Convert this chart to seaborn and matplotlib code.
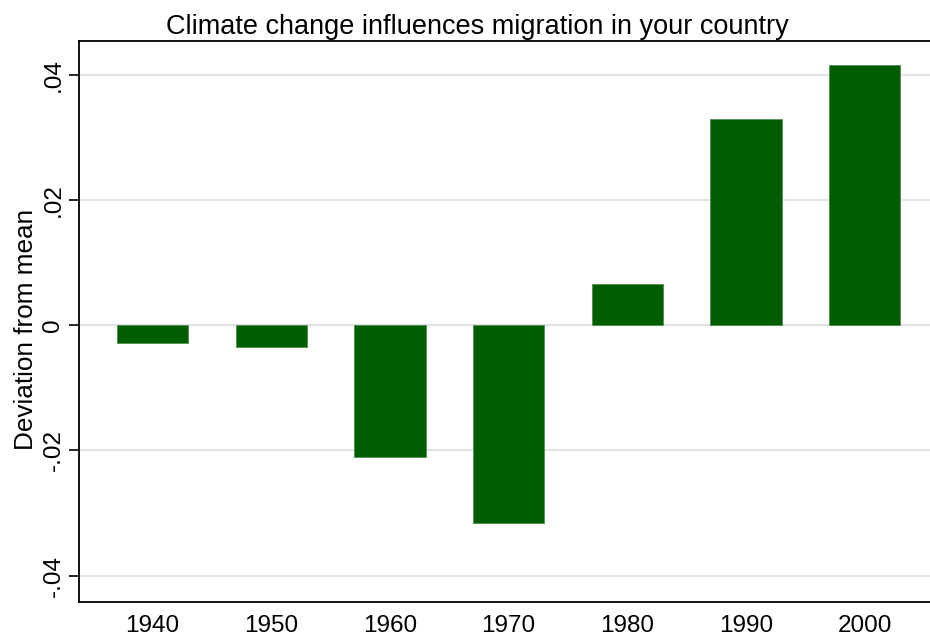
import pandas as pd
import seaborn as sns
import matplotlib.pyplot as plt

years = ['1940', '1950', '1960', '1970', '1980', '1990', '2000']
deviation = [-0.0029, -0.0035, -0.0210, -0.0316, 0.0066, 0.0329, 0.0415]
ytick_vals = [-0.04, -0.02, 0, 0.02, 0.04]
ytick_labels = ['-.04', '-.02', '0', '.02', '.04']

df = pd.DataFrame({'year': years, 'dev': deviation})

sns.set_style('white')
plt.rcParams['font.family'] = ['Liberation Sans', 'DejaVu Sans']
plt.rcParams['text.color'] = 'black'
plt.rcParams['axes.labelcolor'] = 'black'
plt.rcParams['xtick.color'] = 'black'
plt.rcParams['ytick.color'] = 'black'

fig = plt.figure(figsize=(9.3, 6.38), dpi=100)
ax = fig.add_axes([0.085, 0.0564, 0.915, 0.8793])

sns.barplot(x='year', y='dev', data=df, color='#005e00', width=0.6,
            edgecolor='#4f8f4f', linewidth=0.6, saturation=1, ax=ax, zorder=3)

ax.set_ylim(-0.0442, 0.0454)
ax.set_xlim(-0.62, 6.55)
ax.set_yticks(ytick_vals)
ax.set_yticklabels(ytick_labels, rotation=90, va='center', fontsize=17.5)
ax.tick_params(axis='y', length=7.5, width=1.2, direction='out', pad=3, left=True)
ax.tick_params(axis='x', length=0, labelsize=17.5, pad=9)
ax.yaxis.grid(True, color='#e3e3e3', linewidth=1.5, zorder=0)
ax.set_axisbelow(True)

for s in ['left', 'bottom', 'top']:
    ax.spines[s].set_visible(True)
    ax.spines[s].set_color('black')
    ax.spines[s].set_linewidth(1.3)
ax.spines['right'].set_visible(False)

ax.set_xlabel('')
ax.set_ylabel('Deviation from mean', fontsize=18.8, labelpad=3)
ax.yaxis.label.set_y(0.485)
ax.set_title('Climate change influences migration in your country', fontsize=19.5, pad=5, x=0.468)

plt.savefig('out.png', dpi=100)
